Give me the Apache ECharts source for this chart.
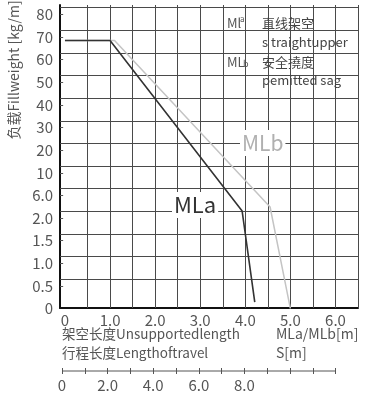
<!DOCTYPE html>
<html><head><meta charset="utf-8">
<script src="https://cdn.jsdelivr.net/npm/echarts@6/dist/echarts.min.js"></script>
<style>html,body{margin:0;padding:0;background:#fff}#c{width:367px;height:396px}</style>
</head><body><div id="c"></div>
<script>
// Y axis tick labels (equally spaced, non-linear scale) -> index positions 0..13
const yLabels = ['0','0.5','1.0','1.5','2.0','6.0','10','20','30','40','50','60','70','80'];
// Unsupported length MLa / MLb [m]  (y in label-index units)
const mlaX = [0, 1.0, 3.93, 4.21];
const mlaY = [11.85, 11.85, 4.31, 0.29];
const mlbX = [0, 1.1, 4.55, 5.0];
const mlbY = [11.85, 11.85, 4.49, 0];
// Grid line positions (x in m, y in label-index units)
const xGridValues = [0.5, 1, 1.5, 2, 2.5, 3, 3.5, 4, 4.5, 5, 5.5, 6, 6.5];
const yGridValues = [1.3, 2.3, 3.3, 4.3, 5.3, 6.3, 7.3, 8.3, 9.3, 10.3, 11.3, 12.3, 13.3];
const yTickValues = [0, 1, 2, 3, 4, 5, 6, 7, 8, 9, 10, 11, 12, 13];
// Length of travel S [m]
const sTicks = [0, 1, 2, 3, 4, 5, 6, 7, 8, 9, 10, 11, 12];
const sLabelValues = [0, 2, 4, 6, 8];

const FONT = 'Noto Sans CJK SC';
const TXT = '#555';
const GRIDC = '#4a4a4a';
const H = () => ({show: false});
const X0 = -0.11; // plot-area x minimum (axis line sits slightly left of 0)

const T = (text, left, top, size, lh, color, box) => Object.assign({
  text: text, left: left, top: top, padding: box ? [0, 2] : 0, itemGap: 0,
  textStyle: {fontFamily: FONT, fontSize: size, lineHeight: lh, fontWeight: 'normal', color: color}
}, box ? {backgroundColor: '#fff'} : {});

const chart = echarts.init(document.getElementById('c'));
const option = {
  animation: false,
  backgroundColor: '#fff',
  textStyle: {fontFamily: FONT},
  title: [
    T('MLa', 172, 192, 22, 26, '#333', true),
    T('MLb', 240, 130, 21, 26, '#b0b0b0', true),
    T('Ml', 227, 15, 13, 16, TXT),
    T('a', 240, 14, 8, 10, TXT),
    T('直线架空', 262, 15, 13, 16, '#444'),
    T('s traightupper', 262, 34, 13, 16, '#444'),
    T('ML', 227, 54, 13, 16, TXT),
    T('b', 243, 59, 9, 10, TXT),
    T('安全撓度', 262, 54, 13, 16, '#444'),
    T('pemitted sag', 262, 72, 13, 16, '#444'),
    T('架空长度Unsupportedlength', 62, 325, 13.5, 18, TXT),
    T('MLa/MLb[m]', 276, 325, 14, 18, TXT),
    T('行程长度Lengthoftravel', 62, 344, 13.5, 18, TXT),
    T('S[m]', 276, 344, 14, 18, TXT)
  ],
  grid: [
    {left: 60, top: 5, width: 298, height: 303},        // frame (axis lines)
    {left: 65, top: 14.4, width: 293, height: 294.2},   // tick labels
    {left: 60, top: 5, width: 298, height: 303},        // plot area: data + grid lines
    {left: 62, top: 366, width: 273.6, height: 10}      // travel length scale
  ],
  xAxis: [
    {gridIndex: 0, type: 'value', min: 0, max: 1, axisLine: {show: true, onZero: false, lineStyle: {color: '#111', width: 2}},
     axisTick: H(), axisLabel: H(), splitLine: H()},
    {gridIndex: 1, type: 'value', min: 0, max: 6.5, interval: 1, axisLine: H(), axisTick: H(), splitLine: H(),
     axisLabel: {color: TXT, fontSize: 15, fontFamily: FONT, margin: 4,
       formatter: v => (Math.abs(v - Math.round(v)) > 1e-6 ? '' : (v === 0 ? '0' : v.toFixed(1)))}},
    {gridIndex: 2, type: 'value', show: false, min: X0, max: 6.5},
    {gridIndex: 3, type: 'value', position: 'bottom', min: 0, max: 12, interval: 1,
     axisLine: H(), axisTick: H(), splitLine: H(),
     axisLabel: {color: TXT, fontSize: 15, fontFamily: FONT, margin: 2,
       formatter: v => (sLabelValues.indexOf(v) >= 0 ? (v === 0 ? '0' : v.toFixed(1)) : '')}}
  ],
  yAxis: [
    {gridIndex: 0, type: 'value', min: 0, max: 1, axisLine: {show: true, onZero: false, lineStyle: {color: '#111', width: 2}},
     axisTick: H(), axisLabel: H(), splitLine: H()},
    {gridIndex: 1, type: 'value', min: 0, max: 13, interval: 1, offset: 5,
     axisLine: H(), splitLine: H(), axisTick: H(),
     axisLabel: {color: TXT, fontSize: 15, fontFamily: FONT, margin: 7,
       formatter: v => (Number.isInteger(v) ? yLabels[v] : '')}},
    {gridIndex: 2, type: 'value', show: false, min: 0.0265, max: 13.416},
    {gridIndex: 3, type: 'value', show: false, min: -1, max: 1}
  ],
  series: [
    {type: 'line', xAxisIndex: 2, yAxisIndex: 2, symbol: 'none', z: 3, silent: true,
     lineStyle: {color: '#c4c4c4', width: 1.5}, data: mlbX.map((x, i) => [x, mlbY[i]]),
     markLine: {silent: true, z: 1, animation: false, symbol: ['none', 'none'], label: {show: false},
       emphasis: {disabled: true},
       lineStyle: {type: 'solid', color: GRIDC, width: 1},
       data: xGridValues.map(v => ({xAxis: v})).concat(yGridValues.map(v => ({yAxis: v})))}},
    {type: 'line', xAxisIndex: 2, yAxisIndex: 2, symbol: 'none', z: 4, silent: true,
     lineStyle: {color: '#333', width: 1.6}, data: mlaX.map((x, i) => [x, mlaY[i]]),
     markLine: {silent: true, z: 2, animation: false, symbol: ['none', 'none'], label: {show: false},
       emphasis: {disabled: true},
       lineStyle: {type: 'solid', color: '#555', width: 1},
       data: yTickValues.map(v => [{coord: [X0, v]}, {coord: [X0 + 0.07, v]}])}},
    {type: 'line', xAxisIndex: 3, yAxisIndex: 3, symbol: 'none', silent: true,
     lineStyle: {color: '#555', width: 1}, data: sTicks.map(v => [v, 0]),
     markLine: {silent: true, animation: false, symbol: ['none', 'none'], label: {show: false},
       emphasis: {disabled: true},
       lineStyle: {type: 'solid', color: '#555', width: 1},
       data: sTicks.map(v => [{coord: [v, -0.6]}, {coord: [v, 0.6]}])}}
  ],
  graphic: [
    {type: 'text', x: 14, y: 70, rotation: Math.PI / 2,
     style: {text: '负载Fillweight [kg/m]', fill: TXT, font: '14px "' + FONT + '"', align: 'center', verticalAlign: 'middle'}}
  ]
};
chart.setOption(option);
</script>
</body></html>
